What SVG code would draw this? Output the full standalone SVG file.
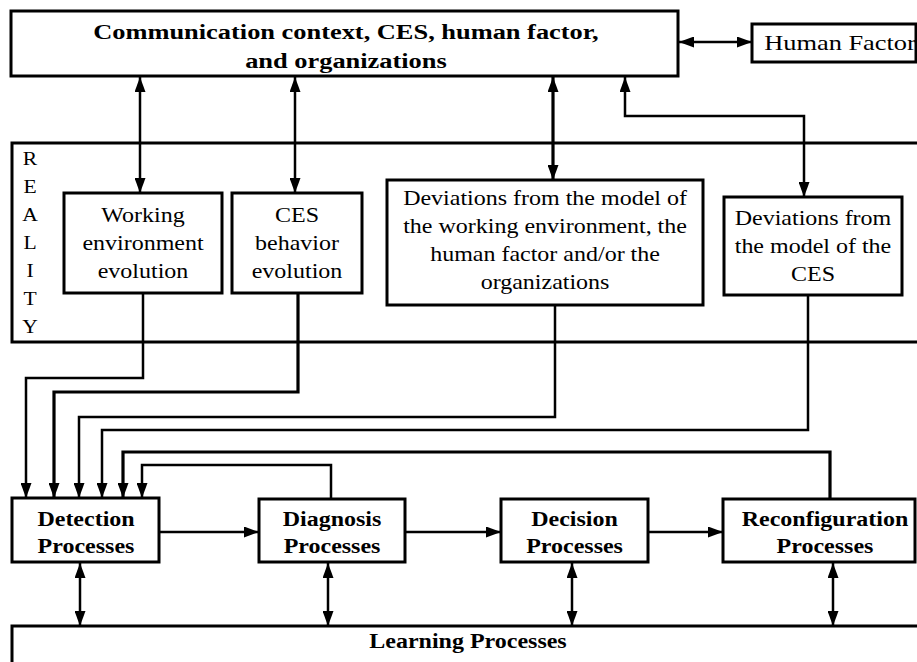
<svg xmlns="http://www.w3.org/2000/svg" width="917" height="662" viewBox="0 0 917 662">
<style>
.box{fill:#fff;stroke:#000;stroke-width:3}
.ln{fill:none;stroke:#000;stroke-width:2.5}
.tk{fill:none;stroke:#000;stroke-width:3.2}
.t{font-family:"Liberation Serif","Times New Roman",serif;font-size:20px;text-anchor:middle;fill:#000}
.b{font-weight:bold}
</style>
<defs>
<marker id="ah" viewBox="0 0 15 11" refX="15" refY="5.5" markerWidth="15" markerHeight="11" markerUnits="userSpaceOnUse" orient="auto-start-reverse">
<path d="M0,0 L15,5.5 L0,11 z" fill="#000"/>
</marker>
</defs>
<rect width="917" height="662" fill="#fff"/>

<g id="reality">
<rect class="box" x="12" y="143" width="910" height="199"/>
<g transform="scale(1.2,1)">
<text class="t" x="25" y="165" style="font-size:18px">R</text>
<text class="t" x="25" y="193" style="font-size:18px">E</text>
<text class="t" x="25" y="221" style="font-size:18px">A</text>
<text class="t" x="25" y="249" style="font-size:18px">L</text>
<text class="t" x="25" y="277" style="font-size:18px">I</text>
<text class="t" x="25" y="305" style="font-size:18px">T</text>
<text class="t" x="25" y="333" style="font-size:18px">Y</text>
</g>
</g>

<g id="learning">
<rect class="box" x="12" y="626" width="910" height="50"/>
<g transform="scale(1.2,1)"><text class="t b" x="390" y="648">Learning Processes</text></g>
</g>

<g id="context">
<rect class="box" x="11" y="11" width="667" height="65"/>
<g transform="scale(1.2,1)">
<text class="t b" x="288.3" y="39" style="font-size:22px">Communication context, CES, human factor,</text>
<text class="t b" x="288.3" y="68" style="font-size:22px">and organizations</text>
</g>
</g>

<g id="humanfactor">
<rect class="box" x="752" y="24" width="164" height="38"/>
<g transform="scale(1.2,1)"><text class="t" x="700" y="50" style="font-size:22px">Human Factor</text></g>
</g>

<g id="working">
<rect class="box" x="64" y="193" width="158" height="100"/>
<g transform="scale(1.2,1)">
<text class="t" x="119.2" y="222">Working</text>
<text class="t" x="119.2" y="250">environment</text>
<text class="t" x="119.2" y="278">evolution</text>
</g>
</g>

<g id="ces">
<rect class="box" x="232" y="193" width="130" height="100"/>
<g transform="scale(1.2,1)">
<text class="t" x="247.5" y="222">CES</text>
<text class="t" x="247.5" y="250">behavior</text>
<text class="t" x="247.5" y="278">evolution</text>
</g>
</g>

<g id="devenv">
<rect class="box" x="387" y="180" width="316" height="125"/>
<g transform="scale(1.2,1)">
<text class="t" x="454.2" y="205">Deviations from the model of</text>
<text class="t" x="454.2" y="233">the working environment, the</text>
<text class="t" x="454.2" y="261">human factor and/or the</text>
<text class="t" x="454.2" y="289">organizations</text>
</g>
</g>

<g id="devces">
<rect class="box" x="724" y="197" width="178" height="98"/>
<g transform="scale(1.2,1)">
<text class="t" x="677.5" y="225">Deviations from</text>
<text class="t" x="677.5" y="253">the model of the</text>
<text class="t" x="677.5" y="281">CES</text>
</g>
</g>

<g id="detection">
<rect class="box" x="12" y="498" width="147" height="64"/>
<g transform="scale(1.2,1)">
<text class="t b" x="71.7" y="526">Detection</text>
<text class="t b" x="71.7" y="553">Processes</text>
</g>
</g>

<g id="diagnosis">
<rect class="box" x="259" y="499" width="146" height="63"/>
<g transform="scale(1.2,1)">
<text class="t b" x="276.7" y="526">Diagnosis</text>
<text class="t b" x="276.7" y="553">Processes</text>
</g>
</g>

<g id="decision">
<rect class="box" x="501" y="499" width="147" height="63"/>
<g transform="scale(1.2,1)">
<text class="t b" x="478.8" y="526">Decision</text>
<text class="t b" x="478.8" y="553">Processes</text>
</g>
</g>

<g id="reconfiguration">
<rect class="box" x="723" y="499" width="192" height="63"/>
<g transform="scale(1.2,1)">
<text class="t b" x="687.5" y="526">Reconfiguration</text>
<text class="t b" x="687.5" y="553">Processes</text>
</g>
</g>

<g id="connectors">
<path class="ln" d="M679,42 H752" marker-start="url(#ah)" marker-end="url(#ah)"/>
<path class="ln" d="M140,77 V193" marker-start="url(#ah)" marker-end="url(#ah)"/>
<path class="ln" d="M295,77 V193" marker-start="url(#ah)" marker-end="url(#ah)"/>
<path class="tk" d="M553,77 V180" marker-start="url(#ah)" marker-end="url(#ah)"/>
<path class="ln" d="M625,77 V116 H804 V197" marker-start="url(#ah)" marker-end="url(#ah)"/>

<path class="ln" d="M143,293 V378 H26 V498" marker-end="url(#ah)"/>
<path class="tk" d="M298,293 V392 H54 V498" marker-end="url(#ah)"/>
<path class="ln" d="M555,305 V417 H79 V498" marker-end="url(#ah)"/>
<path class="ln" d="M808,295 V430 H102 V498" marker-end="url(#ah)"/>
<path class="tk" d="M830,499 V452 H123 V498" marker-end="url(#ah)"/>
<path class="ln" d="M331,499 V465 H142 V498" marker-end="url(#ah)"/>

<path class="ln" d="M159,532 H259" marker-end="url(#ah)"/>
<path class="ln" d="M405,532 H501" marker-end="url(#ah)"/>
<path class="ln" d="M648,532 H723" marker-end="url(#ah)"/>

<path class="ln" d="M80,563 V626" marker-start="url(#ah)" marker-end="url(#ah)"/>
<path class="ln" d="M328,563 V626" marker-start="url(#ah)" marker-end="url(#ah)"/>
<path class="ln" d="M572,563 V626" marker-start="url(#ah)" marker-end="url(#ah)"/>
<path class="ln" d="M833,563 V626" marker-start="url(#ah)" marker-end="url(#ah)"/>
</g>
</svg>
